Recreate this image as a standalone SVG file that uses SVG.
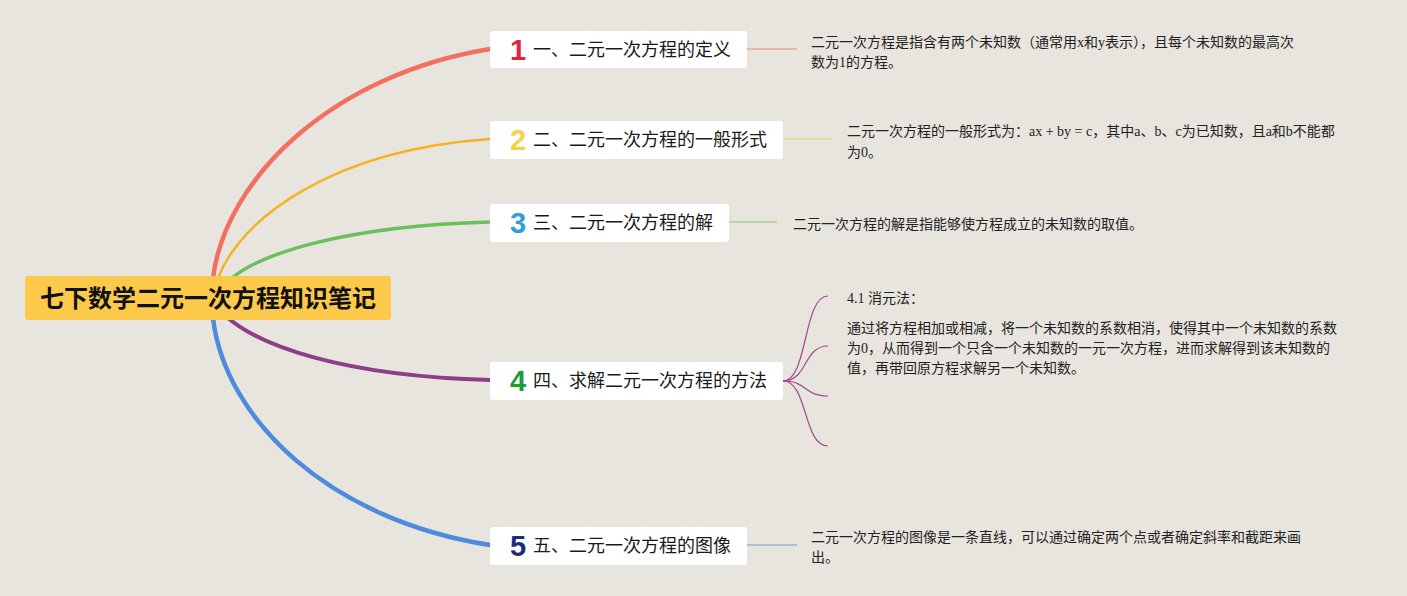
<svg xmlns="http://www.w3.org/2000/svg" width="1407" height="596" viewBox="0 0 1407 596">
<style>
.box{fill:#ffffff}
.lbl{font-family:"Noto Sans CJK SC","Noto Sans",sans-serif;font-size:18px;fill:#1a1a1a}
.num{font-family:"Liberation Sans","Noto Sans",sans-serif;font-size:29px;font-weight:bold;text-anchor:middle}
.desc{font-family:"Liberation Serif","Noto Sans CJK SC",serif;font-size:14px;fill:#222222}
.main{fill:none;stroke-linecap:round}
.sub{fill:none;stroke-width:1.2}
</style>
<rect x="0" y="0" width="1407" height="596" fill="#e8e5de"/>
<g id="connectors">
<path class="main" d="M213,278 C225,180 330,75 490,49" stroke="#f36f60" stroke-width="4.5"/>
<path class="main" d="M218,278 C240,220 330,150 490,139" stroke="#f4b324" stroke-width="2.5"/>
<path class="main" d="M232,278 C260,255 340,226 490,222" stroke="#6ac15a" stroke-width="3.5"/>
<path class="main" d="M228,318 C260,345 340,376 490,380" stroke="#8e3d88" stroke-width="4"/>
<path class="main" d="M213,318 C225,420 330,520 490,545" stroke="#4d8bdc" stroke-width="4.5"/>
<line x1="747" y1="49" x2="797" y2="49" stroke="#f2a59b" stroke-width="1.5"/>
<line x1="783" y1="139" x2="832" y2="139" stroke="#f1d08a" stroke-width="1.5"/>
<line x1="729" y1="222" x2="777" y2="222" stroke="#a6d48e" stroke-width="1.5"/>
<line x1="747" y1="545" x2="797" y2="545" stroke="#9ab3d4" stroke-width="1.5"/>
<path class="sub" d="M783,381 C808,381 803,296 828,296" stroke="#a34a92"/>
<path class="sub" d="M783,381 C808,381 803,346 828,346" stroke="#a34a92"/>
<path class="sub" d="M783,381 C808,381 803,396 828,396" stroke="#a34a92"/>
<path class="sub" d="M783,381 C808,381 803,446 828,446" stroke="#a34a92"/>
</g>
<g id="root">
<rect x="25" y="276" width="366" height="44" rx="3" fill="#fcc94b"/>
<text x="208" y="307" text-anchor="middle" font-family="Noto Sans CJK SC, sans-serif" font-size="24" font-weight="bold" fill="#111111">七下数学二元一次方程知识笔记</text>
</g>
<g id="node1">
<rect class="box" x="490" y="31" width="257" height="37" rx="3"/>
<text class="num" x="518" y="60" fill="#e1233b">1</text>
<text class="lbl" x="533" y="56">一、二元一次方程的定义</text>
</g>
<g id="desc1">
<text class="desc" x="811" y="47">二元一次方程是指含有两个未知数（通常用x和y表示），且每个未知数的最高次</text>
<text class="desc" x="811" y="67">数为1的方程。</text>
</g>
<g id="node2">
<rect class="box" x="490" y="121" width="293" height="38" rx="3"/>
<text class="num" x="518" y="150" fill="#f4d24a">2</text>
<text class="lbl" x="533" y="146">二、二元一次方程的一般形式</text>
</g>
<g id="desc2">
<text class="desc" x="847" y="136">二元一次方程的一般形式为：ax + by = c，其中a、b、c为已知数，且a和b不能都</text>
<text class="desc" x="847" y="157">为0。</text>
</g>
<g id="node3">
<rect class="box" x="490" y="204" width="239" height="38" rx="3"/>
<text class="num" x="518" y="233" fill="#2a9fdc">3</text>
<text class="lbl" x="533" y="229">三、二元一次方程的解</text>
</g>
<g id="desc3">
<text class="desc" x="793" y="229">二元一次方程的解是指能够使方程成立的未知数的取值。</text>
</g>
<g id="node4">
<rect class="box" x="490" y="362" width="293" height="38" rx="3"/>
<text class="num" x="518" y="391" fill="#1e9c36">4</text>
<text class="lbl" x="533" y="387">四、求解二元一次方程的方法</text>
</g>
<g id="desc4">
<text class="desc" x="847" y="303">4.1 消元法：</text>
<text class="desc" x="847" y="333">通过将方程相加或相减，将一个未知数的系数相消，使得其中一个未知数的系数</text>
<text class="desc" x="847" y="353">为0，从而得到一个只含一个未知数的一元一次方程，进而求解得到该未知数的</text>
<text class="desc" x="847" y="373">值，再带回原方程求解另一个未知数。</text>
</g>
<g id="node5">
<rect class="box" x="490" y="527" width="257" height="38" rx="3"/>
<text class="num" x="518" y="556" fill="#1c2b7c">5</text>
<text class="lbl" x="533" y="552">五、二元一次方程的图像</text>
</g>
<g id="desc5">
<text class="desc" x="811" y="542">二元一次方程的图像是一条直线，可以通过确定两个点或者确定斜率和截距来画</text>
<text class="desc" x="811" y="562">出。</text>
</g>
</svg>
